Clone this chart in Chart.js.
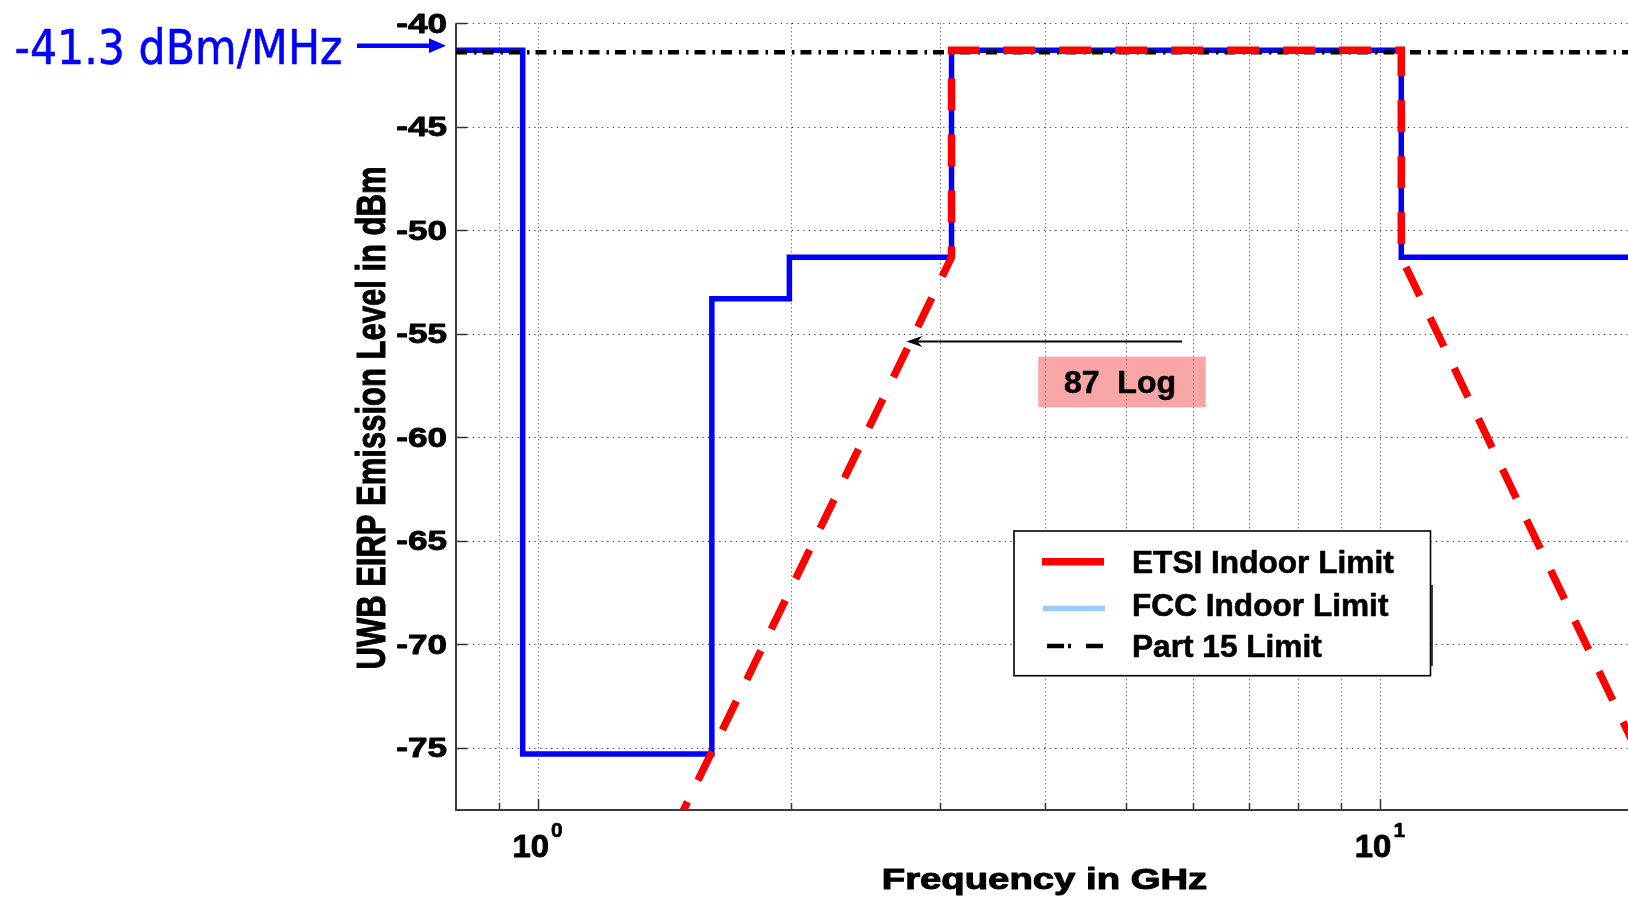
<!DOCTYPE html>
<html>
  <head>
    <title>UWB Emission Limits</title>
    <meta charset="utf-8">
    <style>
      html, body { margin: 0; padding: 0; background: #fff; overflow: hidden; }
      #chart { display: block; }
    </style>
  </head>
  <body>
    <canvas id="chart" width="1628" height="899"></canvas>

    <script src="https://cdn.jsdelivr.net/npm/chart.js"></script>
    <script>
      // frequency in GHz, EIRP level in dBm(/MHz)
      const fccFreq = [0.8, 0.96, 1.61, 1.99, 3.1, 10.6, 20];
      const fccLevel = [-41.3, -75.3, -53.3, -51.3, -41.3, -51.3, -51.3];
      const etsiFreq = [1.45, 3.1, 3.1, 10.6, 10.6, 20];
      const etsiLevel = [-79, -51.3, -41.3, -41.3, -51.3, -74.8];
      const part15Freq = [0.8, 20];
      const part15Level = [-41.4, -41.4];

      const xGrid = [0.9, 1, 2, 3, 4, 5, 6, 7, 8, 9, 10];
      const xMajor = [1, 10];
      const xMajorExp = ['0', '1'];
      const yTicks = [-40, -45, -50, -55, -60, -65, -70, -75];

      // slope annotation (arrow tail -> tip, label box corners)
      const slopeArrowFreq = [5.82, 2.74];
      const slopeArrowLevel = [-55.37, -55.37];
      const slopeBoxFreq = [3.93, 6.21];
      const slopeBoxLevel = [-56.1, -58.55];
      const slopeText = '87  Log';
      const levelText = '-41.3 dBm/MHz';

      const pts = (xs, ys) => xs.map((v, i) => ({x: v, y: ys[i]}));
      const FONT = '"Liberation Sans", Arial, Helvetica, sans-serif';

      // text with horizontal stretch, optionally thickened with a stroke
      function stretchText(ctx, text, x, y, sx, align, heavy) {
        ctx.save();
        ctx.translate(x, y);
        ctx.scale(sx, 1);
        ctx.textAlign = align;
        ctx.textBaseline = 'alphabetic';
        ctx.fillText(text, 0, 0);
        if (heavy) {
          ctx.lineWidth = heavy;
          ctx.strokeStyle = ctx.fillStyle;
          ctx.lineJoin = 'round';
          ctx.strokeText(text, 0, 0);
        }
        ctx.restore();
      }

      function seg(ctx, x1, y1, x2, y2) {
        ctx.beginPath();
        ctx.moveTo(x1, y1);
        ctx.lineTo(x2, y2);
        ctx.stroke();
      }

      const axesPlugin = {
        id: 'matlabAxes',
        beforeDatasetsDraw(chart) {
          const {ctx, chartArea: a} = chart;
          const xs = chart.scales.x, ys = chart.scales.y;
          ctx.save();
          // dotted grid
          ctx.strokeStyle = 'rgba(0,0,0,0.75)';
          ctx.lineWidth = 1;
          ctx.setLineDash([1, 3]);
          xGrid.forEach(v => {
            const px = Math.round(xs.getPixelForValue(v)) + 0.5;
            seg(ctx, px, a.top, px, a.bottom);
          });
          ctx.setLineDash([1.3, 4.3]);
          yTicks.forEach(v => {
            const py = Math.round(ys.getPixelForValue(v)) + 0.5;
            seg(ctx, a.left, py, a.right, py);
          });
          ctx.setLineDash([]);
          // inward tick marks
          ctx.strokeStyle = '#333';
          ctx.lineWidth = 1.5;
          xGrid.forEach(v => {
            const px = Math.round(xs.getPixelForValue(v)) + 0.5;
            const len = xMajor.includes(v) ? 11 : 7;
            seg(ctx, px, a.bottom, px, a.bottom - len);
          });
          yTicks.forEach(v => {
            const py = Math.round(ys.getPixelForValue(v)) + 0.5;
            seg(ctx, a.left, py, a.left + 11, py);
          });
          // axis lines (no box)
          ctx.strokeStyle = '#3c3c3c';
          ctx.lineWidth = 2;
          seg(ctx, a.left, a.top, a.left, a.bottom + 1);
          seg(ctx, a.left - 1, a.bottom, a.right, a.bottom);
          ctx.restore();
        },
        afterDatasetsDraw(chart) {
          const {ctx} = chart;
          const xs = chart.scales.x, ys = chart.scales.y;
          ctx.save();
          ctx.fillStyle = '#000';

          // y tick labels
          ctx.font = 'bold 27px ' + FONT;
          yTicks.forEach(v => {
            const py = ys.getPixelForValue(v);
            stretchText(ctx, String(v), 447, py + 9.6, 1.3, 'right', 0.9);
          });

          // x tick labels 10^n
          xMajor.forEach((v, i) => {
            const px = xs.getPixelForValue(v);
            ctx.font = 'bold 31px ' + FONT;
            const w1 = ctx.measureText('10').width * 1.06;
            ctx.font = 'bold 21px ' + FONT;
            const w2 = ctx.measureText(xMajorExp[i]).width;
            const left = px - (w1 + 2 + w2) / 2;
            ctx.font = 'bold 31px ' + FONT;
            stretchText(ctx, '10', left, 857, 1.06, 'left', 0.9);
            ctx.font = 'bold 21px ' + FONT;
            stretchText(ctx, xMajorExp[i], left + w1 + 2, 837, 1, 'left', 0.6);
          });

          // axis titles
          ctx.font = 'bold 29px ' + FONT;
          stretchText(ctx, 'Frequency in GHz', 1044.5, 889, 1.32, 'center', 1);
          ctx.save();
          ctx.translate(385, 418);
          ctx.rotate(-Math.PI / 2);
          ctx.scale(1, 1.3);
          ctx.font = 'bold 31px ' + FONT;
          ctx.textAlign = 'center';
          ctx.fillText('UWB EIRP Emission Level in dBm', 0, 0);
          ctx.lineWidth = 0.8;
          ctx.strokeStyle = '#000';
          ctx.strokeText('UWB EIRP Emission Level in dBm', 0, 0);
          ctx.restore();

          // slope label box
          const bx1 = xs.getPixelForValue(slopeBoxFreq[0]);
          const bx2 = xs.getPixelForValue(slopeBoxFreq[1]);
          const by1 = ys.getPixelForValue(slopeBoxLevel[0]);
          const by2 = ys.getPixelForValue(slopeBoxLevel[1]);
          ctx.fillStyle = 'rgba(235,40,40,0.42)';
          ctx.fillRect(bx1, by1, bx2 - bx1, by2 - by1);
          ctx.fillStyle = '#000';
          ctx.font = 'bold 32px ' + FONT;
          stretchText(ctx, slopeText, (bx1 + bx2) / 2 - 2, by2 - 14.5, 1, 'center', 0.6);

          // slope arrow (points left)
          const tx = xs.getPixelForValue(slopeArrowFreq[0]);
          const hx = xs.getPixelForValue(slopeArrowFreq[1]);
          const ay = ys.getPixelForValue(slopeArrowLevel[0]);
          ctx.strokeStyle = '#000';
          ctx.lineWidth = 2;
          seg(ctx, tx, ay, hx + 10, ay);
          ctx.beginPath();
          ctx.moveTo(hx, ay);
          ctx.lineTo(hx + 16, ay - 5.5);
          ctx.lineTo(hx + 11, ay);
          ctx.lineTo(hx + 16, ay + 5.5);
          ctx.closePath();
          ctx.fill();

          // blue level callout
          ctx.fillStyle = '#0000ff';
          ctx.font = '48px "DejaVu Sans", Verdana, sans-serif';
          stretchText(ctx, levelText, 14.5, 64, 0.89, 'left', 0.6);
          ctx.strokeStyle = '#0000ff';
          ctx.lineWidth = 4.5;
          seg(ctx, 357, 45.7, 432, 45.7);
          ctx.beginPath();
          ctx.moveTo(429, 38.3);
          ctx.lineTo(446, 45.7);
          ctx.lineTo(429, 53.1);
          ctx.closePath();
          ctx.fill();

          // legend
          const L = {left: 1014, top: 531, right: 1430.5, bottom: 675.7};
          ctx.fillStyle = '#fff';
          ctx.fillRect(L.left, L.top, L.right - L.left, L.bottom - L.top);
          ctx.strokeStyle = '#000';
          ctx.lineWidth = 1.6;
          ctx.strokeRect(L.left, L.top, L.right - L.left, L.bottom - L.top);
          ctx.lineWidth = 1.5;
          seg(ctx, L.right + 1.5, 585, L.right + 1.5, 666);
          const rows = [
            {y: 561.7, base: 572.7, color: '#ff0000', width: 7.5, dash: [], x1: 1042, x2: 1104},
            {y: 608.6, base: 616, color: '#9dcbf8', width: 5.5, dash: [], x1: 1043, x2: 1105},
            {y: 646, base: 657.3, color: '#000000', width: 4.5, dash: [17, 4, 3, 15], x1: 1047, x2: 1103}
          ];
          chart.data.datasets.forEach((ds, i) => {
            const r = rows[i];
            ctx.strokeStyle = r.color;
            ctx.lineWidth = r.width;
            ctx.setLineDash(r.dash);
            seg(ctx, r.x1, r.y, r.x2, r.y);
            ctx.setLineDash([]);
            ctx.fillStyle = '#000';
            ctx.font = 'bold 31px ' + FONT;
            stretchText(ctx, ds.label, 1132, r.base, 1.02, 'left', 0.6);
          });
          ctx.restore();
        }
      };

      const config = {
        type: 'line',
        data: {
          datasets: [{
            label: 'ETSI Indoor Limit',
            data: pts(etsiFreq, etsiLevel),
            borderColor: '#ff0000',
            borderWidth: 7.5,
            borderDash: [32, 24],
            borderCapStyle: 'butt',
            borderJoinStyle: 'miter',
            pointRadius: 0,
            fill: false,
            order: 0
          }, {
            label: 'FCC Indoor Limit',
            data: pts(fccFreq, fccLevel),
            borderColor: '#0000ff',
            borderWidth: 5.5,
            stepped: 'before',
            borderCapStyle: 'butt',
            borderJoinStyle: 'miter',
            pointRadius: 0,
            fill: false,
            order: 2
          }, {
            label: 'Part 15 Limit',
            data: pts(part15Freq, part15Level),
            borderColor: '#000000',
            borderWidth: 4.5,
            borderDash: [11, 7, 2.5, 6],
            borderCapStyle: 'butt',
            pointRadius: 0,
            fill: false,
            order: 1
          }]
        },
        options: {
          responsive: false,
          devicePixelRatio: 1,
          animation: false,
          events: [],
          layout: { padding: { left: 456, top: 23.3, right: 0, bottom: 89 } },
          scales: {
            x: { type: 'logarithmic', min: 0.8, max: 19.7, display: false },
            y: { type: 'linear', min: -78, max: -40, display: false }
          },
          plugins: {
            legend: { display: false },
            tooltip: { enabled: false }
          }
        },
        plugins: [axesPlugin]
      };

      new Chart(document.getElementById('chart'), config);
    </script>
  </body>
</html>
